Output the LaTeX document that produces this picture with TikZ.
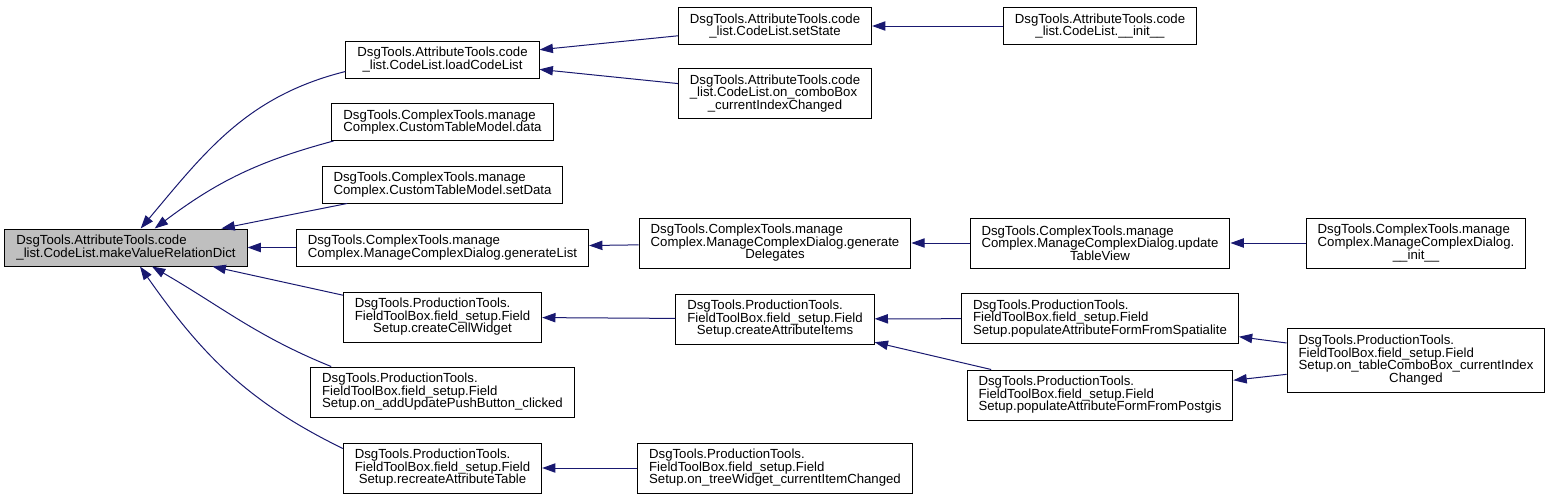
\documentclass[tikz,border=0pt]{standalone}
\usepackage{fontspec}
\setmainfont{Liberation Sans}
\usetikzlibrary{arrows.meta,positioning}
\definecolor{edgeblue}{HTML}{191970}
\definecolor{rootgray}{HTML}{BFBFBF}
\newcommand{\lastln}[1]{\hspace*{\fill}#1\hspace*{\fill}}

\begin{document}
\begin{tikzpicture}[x=0.75pt,y=-0.75pt,
  fn/.style={draw=black,fill=white,line width=0.75pt,align=left,
             inner xsep=8.6pt,inner ysep=1pt,
             font={\fontsize{9.9}{9.4}\selectfont\lineskiplimit=-10pt}},
  two/.style={fn,minimum height=27.75pt},
  three/.style={fn,minimum height=37.5pt},
  four/.style={fn,minimum height=48pt},
  call/.style={-{Triangle[length=10pt,width=7pt]},draw=edgeblue,line width=0.75pt}
]
  \useasboundingbox (0,0) rectangle (1551,500);

  % root
  \node[two,fill=rootgray] (root) at (126,247.5)
    {DsgTools.AttributeTools.code\\\lastln{\_list.CodeList.makeValueRelationDict}};

  % first column of callers
  \node[two] (lcl)   at (442.5,59.5)
    {DsgTools.AttributeTools.code\\\lastln{\_list.CodeList.loadCodeList}};
  \node[two] (dat)   at (442.5,122)
    {DsgTools.ComplexTools.manage\\\lastln{Complex.CustomTableModel.data}};
  \node[two] (sdat)  at (442.5,184.5)
    {DsgTools.ComplexTools.manage\\\lastln{Complex.CustomTableModel.setData}};
  \node[two] (glist) at (442.5,247.5)
    {DsgTools.ComplexTools.manage\\\lastln{Complex.ManageComplexDialog.generateList}};
  \node[three] (ccw) at (442.5,317)
    {DsgTools.ProductionTools.\\FieldToolBox.field\_setup.Field\\\lastln{Setup.createCellWidget}};
  \node[three] (oaup) at (442.5,392)
    {DsgTools.ProductionTools.\\FieldToolBox.field\_setup.Field\\\lastln{Setup.on\_addUpdatePushButton\_clicked}};
  \node[three] (rat) at (442.5,468)
    {DsgTools.ProductionTools.\\FieldToolBox.field\_setup.Field\\\lastln{Setup.recreateAttributeTable}};

  % second column
  \node[two] (sst)   at (775,26)
    {DsgTools.AttributeTools.code\\\lastln{\_list.CodeList.setState}};
  \node[three] (ocb) at (775,93.5)
    {DsgTools.AttributeTools.code\\\_list.CodeList.on\_comboBox\\\lastln{\_currentIndexChanged}};
  \node[three] (gdel) at (775,243)
    {DsgTools.ComplexTools.manage\\Complex.ManageComplexDialog.generate\\\lastln{Delegates}};
  \node[three] (cai) at (775,319)
    {DsgTools.ProductionTools.\\FieldToolBox.field\_setup.Field\\\lastln{Setup.createAttributeItems}};
  \node[three] (otw) at (775,468)
    {DsgTools.ProductionTools.\\FieldToolBox.field\_setup.Field\\\lastln{Setup.on\_treeWidget\_currentItemChanged}};

  % third column
  \node[two] (cinit) at (1100,26)
    {DsgTools.AttributeTools.code\\\lastln{\_list.CodeList.\_\_init\_\_}};
  \node[three] (utv) at (1100,243)
    {DsgTools.ComplexTools.manage\\Complex.ManageComplexDialog.update\\\lastln{TableView}};
  \node[three] (pspa) at (1100,318.5)
    {DsgTools.ProductionTools.\\FieldToolBox.field\_setup.Field\\\lastln{Setup.populateAttributeFormFromSpatialite}};
  \node[three] (ppg) at (1100,395)
    {DsgTools.ProductionTools.\\FieldToolBox.field\_setup.Field\\\lastln{Setup.populateAttributeFormFromPostgis}};

  % fourth column
  \node[three] (minit) at (1416,243)
    {DsgTools.ComplexTools.manage\\Complex.ManageComplexDialog.\\\lastln{\_\_init\_\_}};
  \node[four] (otcb) at (1416,360)
    {DsgTools.ProductionTools.\\FieldToolBox.field\_setup.Field\\Setup.on\_tableComboBox\_currentIndex\\\lastln{Changed}};

  % calls into the root
  \draw[call] ([yshift=-9pt]lcl.west) to[out=194,in=50] ([xshift=11pt]root.north);
  \draw[call] ([xshift=1.5pt]dat.south west) to[out=195,in=37] ([xshift=21.5pt]root.north);
  \draw[call] (sdat) -- (root);
  \draw[call] (glist) -- (root);
  \draw[call] (ccw) -- (root);
  \draw[call] ([xshift=15.75pt]oaup.north west) to[out=158,in=330] ([xshift=19.5pt]root.south);
  \draw[call] ([yshift=-4.5pt]rat.north west) to[out=154,in=305] ([xshift=10.5pt]root.south);

  % further callers
  \draw[call] (sst) -- (lcl);
  \draw[call] (ocb) -- (lcl);
  \draw[call] (cinit) -- (sst);
  \draw[call] (gdel) -- (glist);
  \draw[call] (utv) -- (gdel);
  \draw[call] (minit) -- (utv);
  \draw[call] (cai) -- (ccw);
  \draw[call] (pspa) -- (cai);
  \draw[call] (ppg) -- (cai);
  \draw[call] (otcb) -- (pspa);
  \draw[call] (otcb) -- (ppg);
  \draw[call] (otw) -- (rat);
\end{tikzpicture}
\end{document}
